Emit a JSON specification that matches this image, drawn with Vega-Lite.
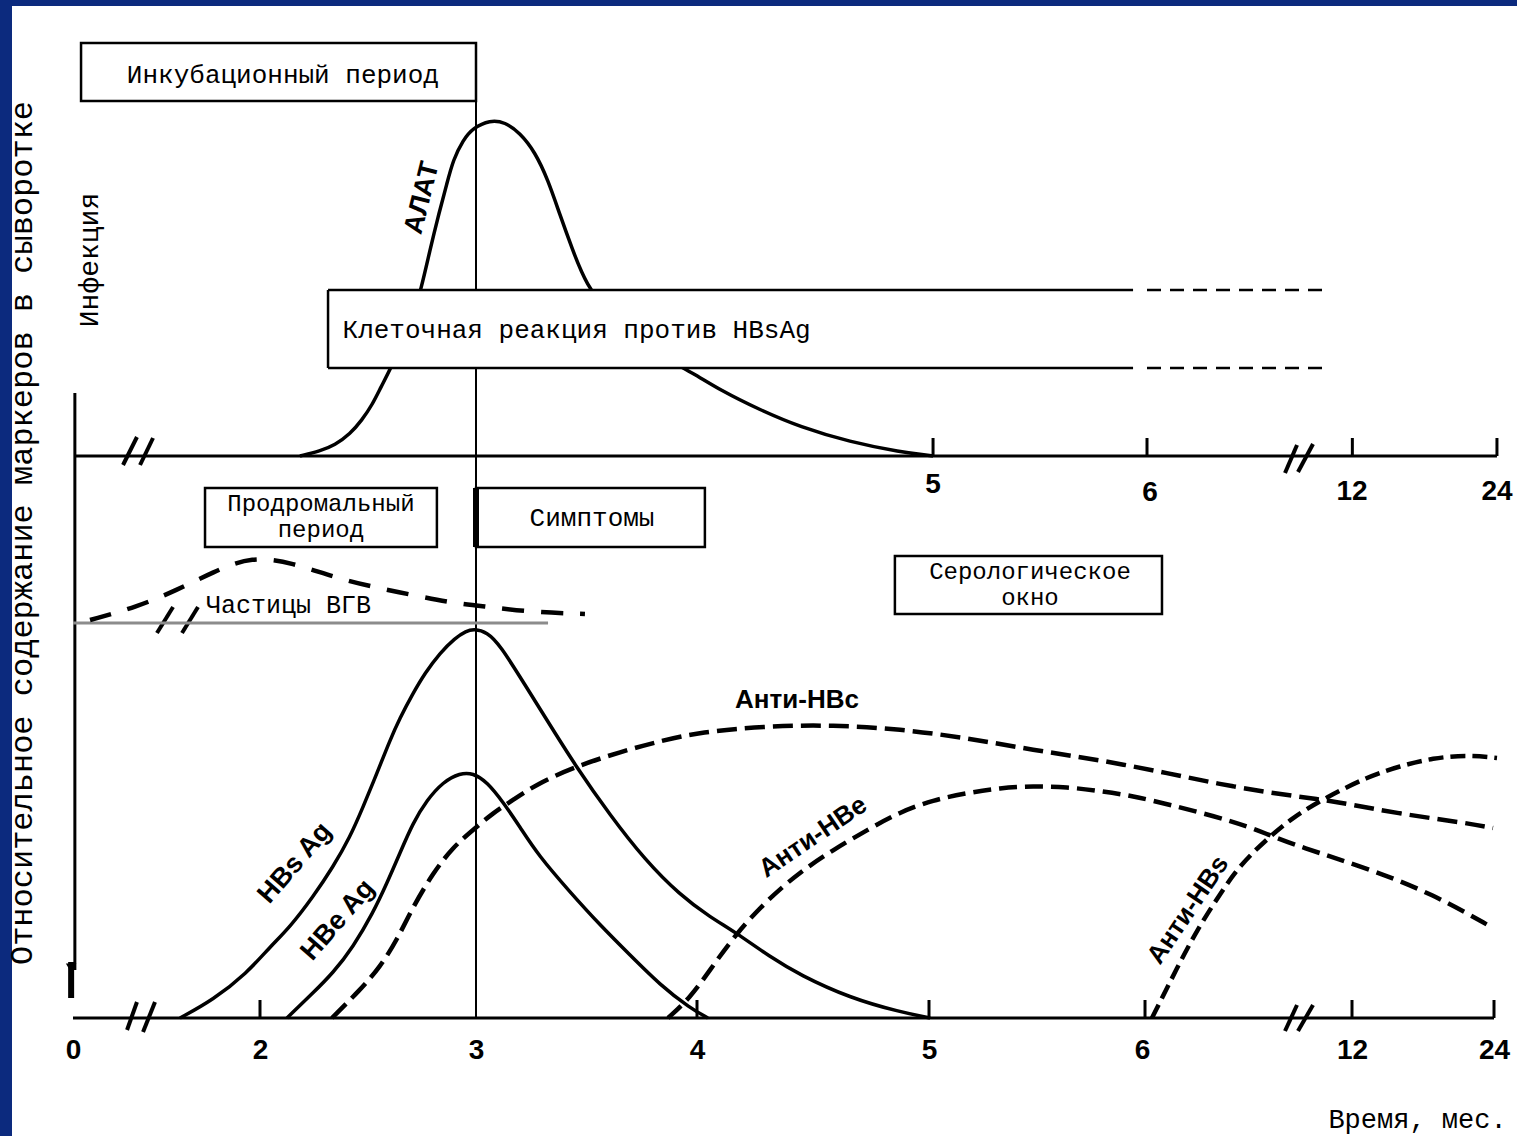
{
  "$schema": "https://vega.github.io/schema/vega-lite/v6.json",
  "width": 1505,
  "height": 1130,
  "autosize": "none",
  "padding": {"left": 12, "top": 6, "right": 0, "bottom": 0},
  "background": "#0c2a7e",
  "config": {"view": {"fill": "white", "stroke": null}, "font": "Liberation Sans"},
  "datasets": {
    "curves": [
      {"series": "АЛАТ", "m": 2.185, "v": 140.5}, {"series": "АЛАТ", "m": 2.278, "v": 141.75}, {"series": "АЛАТ", "m": 2.347, "v": 143.25}, {"series": "АЛАТ", "m": 2.417, "v": 146}, {"series": "АЛАТ", "m": 2.472, "v": 149.5}, {"series": "АЛАТ", "m": 2.519, "v": 153.25}, {"series": "АЛАТ", "m": 2.56, "v": 157.75}, {"series": "АЛАТ", "m": 2.606, "v": 162.5}, {"series": "АЛАТ", "m": 2.657, "v": 168.75}, {"series": "АЛАТ", "m": 2.708, "v": 175.5}, {"series": "АЛАТ", "m": 2.745, "v": 182}, {"series": "АЛАТ", "m": 2.787, "v": 192}, {"series": "АЛАТ", "m": 2.824, "v": 200.25}, {"series": "АЛАТ", "m": 2.866, "v": 208.75}, {"series": "АЛАТ", "m": 2.894, "v": 214.5}, {"series": "АЛАТ", "m": 2.94, "v": 219.5}, {"series": "АЛАТ", "m": 2.986, "v": 222.5}, {"series": "АЛАТ", "m": 3.063, "v": 224.5}, {"series": "АЛАТ", "m": 3.131, "v": 224}, {"series": "АЛАТ", "m": 3.199, "v": 221.25}, {"series": "АЛАТ", "m": 3.267, "v": 216.5}, {"series": "АЛАТ", "m": 3.326, "v": 209.5}, {"series": "АЛАТ", "m": 3.38, "v": 200.75}, {"series": "АЛАТ", "m": 3.434, "v": 192.5}, {"series": "АЛАТ", "m": 3.498, "v": 183.25}, {"series": "АЛАТ", "m": 3.606, "v": 175.75}, {"series": "АЛАТ", "m": 3.742, "v": 169}, {"series": "АЛАТ", "m": 3.869, "v": 164.5}, {"series": "АЛАТ", "m": 3.982, "v": 161.25}, {"series": "АЛАТ", "m": 4.099, "v": 157}, {"series": "АЛАТ", "m": 4.272, "v": 152}, {"series": "АЛАТ", "m": 4.444, "v": 147.75}, {"series": "АЛАТ", "m": 4.659, "v": 144}, {"series": "АЛАТ", "m": 4.875, "v": 141.5}, {"series": "АЛАТ", "m": 5.019, "v": 140.5},
      {"series": "HBsAg", "m": 1.144, "v": 0}, {"series": "HBsAg", "m": 1.497, "v": 4.5}, {"series": "HBsAg", "m": 1.861, "v": 11.25}, {"series": "HBsAg", "m": 2.046, "v": 17.75}, {"series": "HBsAg", "m": 2.139, "v": 22.75}, {"series": "HBsAg", "m": 2.245, "v": 30.25}, {"series": "HBsAg", "m": 2.338, "v": 37.75}, {"series": "HBsAg", "m": 2.417, "v": 45.25}, {"series": "HBsAg", "m": 2.477, "v": 52.75}, {"series": "HBsAg", "m": 2.542, "v": 61.25}, {"series": "HBsAg", "m": 2.602, "v": 69.5}, {"series": "HBsAg", "m": 2.648, "v": 75}, {"series": "HBsAg", "m": 2.704, "v": 80.75}, {"series": "HBsAg", "m": 2.764, "v": 86.25}, {"series": "HBsAg", "m": 2.833, "v": 91.25}, {"series": "HBsAg", "m": 2.903, "v": 95}, {"series": "HBsAg", "m": 2.954, "v": 96.75}, {"series": "HBsAg", "m": 2.991, "v": 97.25}, {"series": "HBsAg", "m": 3.05, "v": 96.5}, {"series": "HBsAg", "m": 3.109, "v": 93.25}, {"series": "HBsAg", "m": 3.222, "v": 83.25}, {"series": "HBsAg", "m": 3.335, "v": 73.25}, {"series": "HBsAg", "m": 3.448, "v": 63.25}, {"series": "HBsAg", "m": 3.606, "v": 50.75}, {"series": "HBsAg", "m": 3.765, "v": 39.5}, {"series": "HBsAg", "m": 3.923, "v": 30.75}, {"series": "HBsAg", "m": 4.056, "v": 25.25}, {"series": "HBsAg", "m": 4.164, "v": 21.5}, {"series": "HBsAg", "m": 4.315, "v": 15.25}, {"series": "HBsAg", "m": 4.444, "v": 10.75}, {"series": "HBsAg", "m": 4.659, "v": 5}, {"series": "HBsAg", "m": 4.875, "v": 1.5}, {"series": "HBsAg", "m": 5.005, "v": 0},
      {"series": "HBeAg", "m": 2.125, "v": 0}, {"series": "HBeAg", "m": 2.245, "v": 6.25}, {"series": "HBeAg", "m": 2.338, "v": 11.25}, {"series": "HBeAg", "m": 2.431, "v": 17.75}, {"series": "HBeAg", "m": 2.523, "v": 26.25}, {"series": "HBeAg", "m": 2.588, "v": 33.75}, {"series": "HBeAg", "m": 2.648, "v": 41.25}, {"series": "HBeAg", "m": 2.708, "v": 48.75}, {"series": "HBeAg", "m": 2.773, "v": 54.5}, {"series": "HBeAg", "m": 2.847, "v": 59}, {"series": "HBeAg", "m": 2.926, "v": 61.25}, {"series": "HBeAg", "m": 2.986, "v": 61.25}, {"series": "HBeAg", "m": 3.05, "v": 59}, {"series": "HBeAg", "m": 3.122, "v": 54}, {"series": "HBeAg", "m": 3.199, "v": 47.75}, {"series": "HBeAg", "m": 3.281, "v": 40.75}, {"series": "HBeAg", "m": 3.425, "v": 31.5}, {"series": "HBeAg", "m": 3.561, "v": 23.25}, {"series": "HBeAg", "m": 3.697, "v": 15.75}, {"series": "HBeAg", "m": 3.833, "v": 8.25}, {"series": "HBeAg", "m": 3.968, "v": 2.5}, {"series": "HBeAg", "m": 4.047, "v": 0},
      {"series": "Анти-HBc", "m": 2.333, "v": 0}, {"series": "Анти-HBc", "m": 2.463, "v": 7}, {"series": "Анти-HBc", "m": 2.556, "v": 12.75}, {"series": "Анти-HBc", "m": 2.634, "v": 19.5}, {"series": "Анти-HBc", "m": 2.708, "v": 27.75}, {"series": "Анти-HBc", "m": 2.801, "v": 36.25}, {"series": "Анти-HBc", "m": 2.894, "v": 42.75}, {"series": "Анти-HBc", "m": 2.986, "v": 47}, {"series": "Анти-HBc", "m": 3.077, "v": 51.25}, {"series": "Анти-HBc", "m": 3.167, "v": 54.5}, {"series": "Анти-HBc", "m": 3.29, "v": 59}, {"series": "Анти-HBc", "m": 3.471, "v": 63.25}, {"series": "Анти-HBc", "m": 3.652, "v": 66.5}, {"series": "Анти-HBc", "m": 3.833, "v": 69.25}, {"series": "Анти-HBc", "m": 4.013, "v": 71.5}, {"series": "Анти-HBc", "m": 4.302, "v": 73}, {"series": "Анти-HBc", "m": 4.586, "v": 73.25}, {"series": "Анти-HBc", "m": 4.875, "v": 72.25}, {"series": "Анти-HBc", "m": 5.178, "v": 70}, {"series": "Анти-HBc", "m": 5.488, "v": 67}, {"series": "Анти-HBc", "m": 5.803, "v": 64.5}, {"series": "Анти-HBc", "m": 6.714, "v": 61.25}, {"series": "Анти-HBc", "m": 8.6, "v": 57.75}, {"series": "Анти-HBc", "m": 10.514, "v": 55.25}, {"series": "Анти-HBc", "m": 11.457, "v": 54.25}, {"series": "Анти-HBc", "m": 16.056, "v": 51}, {"series": "Анти-HBc", "m": 21.718, "v": 48.75}, {"series": "Анти-HBc", "m": 23.916, "v": 47.5},
      {"series": "Анти-HBe", "m": 3.869, "v": 0}, {"series": "Анти-HBe", "m": 3.968, "v": 5}, {"series": "Анти-HBe", "m": 4.056, "v": 12}, {"series": "Анти-HBe", "m": 4.164, "v": 20.75}, {"series": "Анти-HBe", "m": 4.302, "v": 29.5}, {"series": "Анти-HBe", "m": 4.444, "v": 36.5}, {"series": "Анти-HBe", "m": 4.586, "v": 42}, {"series": "Анти-HBe", "m": 4.733, "v": 47}, {"series": "Анти-HBe", "m": 4.875, "v": 51.5}, {"series": "Анти-HBe", "m": 5.019, "v": 54.5}, {"series": "Анти-HBe", "m": 5.178, "v": 56.25}, {"series": "Анти-HBe", "m": 5.333, "v": 57.5}, {"series": "Анти-HBe", "m": 5.488, "v": 58}, {"series": "Анти-HBe", "m": 5.648, "v": 57.75}, {"series": "Анти-HBe", "m": 5.803, "v": 56.75}, {"series": "Анти-HBe", "m": 5.958, "v": 55.5}, {"series": "Анти-HBe", "m": 6.714, "v": 53.5}, {"series": "Анти-HBe", "m": 8.6, "v": 49.25}, {"series": "Анти-HBe", "m": 9.571, "v": 46}, {"series": "Анти-HBe", "m": 10.514, "v": 42.75}, {"series": "Анти-HBe", "m": 13.268, "v": 37.5}, {"series": "Анти-HBe", "m": 18.845, "v": 31}, {"series": "Анти-HBe", "m": 23.916, "v": 22.5},
      {"series": "Анти-HBs", "m": 6.286, "v": 0}, {"series": "Анти-HBs", "m": 6.429, "v": 2.5}, {"series": "Анти-HBs", "m": 7, "v": 12.5}, {"series": "Анти-HBs", "m": 7.571, "v": 22}, {"series": "Анти-HBs", "m": 8.229, "v": 31}, {"series": "Анти-HBs", "m": 8.8, "v": 38.25}, {"series": "Анти-HBs", "m": 9.571, "v": 44.75}, {"series": "Анти-HBs", "m": 10.314, "v": 50.25}, {"series": "Анти-HBs", "m": 11.286, "v": 55.25}, {"series": "Анти-HBs", "m": 13.268, "v": 60.25}, {"series": "Анти-HBs", "m": 16.056, "v": 63}, {"series": "Анти-HBs", "m": 18.845, "v": 65}, {"series": "Анти-HBs", "m": 21.718, "v": 65.75}, {"series": "Анти-HBs", "m": 24.254, "v": 65},
      {"series": "Частицы ВГВ", "m": 0.182, "v": 99.5}, {"series": "Частицы ВГВ", "m": 0.684, "v": 102.75}, {"series": "Частицы ВГВ", "m": 1.112, "v": 107}, {"series": "Частицы ВГВ", "m": 1.497, "v": 111.5}, {"series": "Частицы ВГВ", "m": 1.914, "v": 115.5}, {"series": "Частицы ВГВ", "m": 2.153, "v": 113.75}, {"series": "Частицы ВГВ", "m": 2.338, "v": 110.25}, {"series": "Частицы ВГВ", "m": 2.523, "v": 107.75}, {"series": "Частицы ВГВ", "m": 2.708, "v": 105.75}, {"series": "Частицы ВГВ", "m": 2.894, "v": 103.75}, {"series": "Частицы ВГВ", "m": 3.063, "v": 102.75}, {"series": "Частицы ВГВ", "m": 3.244, "v": 101.5}, {"series": "Частицы ВГВ", "m": 3.493, "v": 101}
    ]
  },
  "encoding": {
    "x": {
      "field": "m", "type": "quantitative",
      "scale": {"type": "linear", "domain": [0, 2, 3, 4, 5, 6, 12, 24], "range": [61, 248, 464, 685, 917, 1130, 1340, 1482], "nice": false, "zero": false},
      "axis": {"title": null, "orient": "bottom", "offset": -118, "values": [0, 2, 3, 4, 5, 6, 12, 24], "format": "d", "domain": false, "ticks": false, "grid": false, "labelFont": "Liberation Sans", "labelFontWeight": "bold", "labelFontSize": 28, "labelColor": "black", "labelPadding": 18, "labelFlush": false, "labelOverlap": false}
    },
    "y": {
      "field": "v", "type": "quantitative",
      "scale": {"type": "linear", "domain": [0, 100], "range": [1012, 612], "nice": false, "zero": false},
      "axis": null
    }
  },
  "layer": [
    {
      "data": {"values": [
        {"part": "upper baseline", "m": 0.02, "m2": 24.25, "v": 140.5, "v2": 140.5},
        {"part": "lower baseline", "m": 0, "m2": 24, "v": 0, "v2": 0},
        {"part": "left axis", "m": 0.02, "m2": 0.02, "v": 156.25, "v2": 12},
        {"part": "tick 5 upper", "m": 5.019, "m2": 5.019, "v": 140.5, "v2": 145},
        {"part": "tick 6 upper", "m": 6.143, "m2": 6.143, "v": 140.5, "v2": 145},
        {"part": "tick 12 upper", "m": 12.03, "m2": 12.03, "v": 140.5, "v2": 145},
        {"part": "tick 24 upper", "m": 24.25, "m2": 24.25, "v": 140.5, "v2": 145},
        {"part": "tick 2", "m": 2, "m2": 2, "v": 0, "v2": 4.5},
        {"part": "tick 4", "m": 4, "m2": 4, "v": 0, "v2": 4.5},
        {"part": "tick 5", "m": 5, "m2": 5, "v": 0, "v2": 4.5},
        {"part": "tick 6", "m": 6.086, "m2": 6.086, "v": 0, "v2": 4.5},
        {"part": "tick 12", "m": 12, "m2": 12, "v": 0, "v2": 4.5},
        {"part": "tick 24", "m": 24, "m2": 24, "v": 0, "v2": 4.5}
      ]},
      "mark": {"type": "rule", "color": "black", "strokeWidth": 3},
      "encoding": {"x2": {"field": "m2"}, "y2": {"field": "v2"}}
    },
    {
      "data": {"values": [
        {"m": 0.535, "m2": 0.684, "v": 138.25, "v2": 145.25},
        {"m": 0.717, "m2": 0.856, "v": 138.25, "v2": 145},
        {"m": 10.086, "m2": 10.429, "v": 136.25, "v2": 143.25},
        {"m": 10.457, "m2": 10.886, "v": 136.5, "v2": 143.5},
        {"m": 0.578, "m2": 0.684, "v": -3, "v2": 4},
        {"m": 0.749, "m2": 0.877, "v": -3.5, "v2": 4},
        {"m": 10.086, "m2": 10.429, "v": -3.25, "v2": 3.25},
        {"m": 10.457, "m2": 10.886, "v": -3.25, "v2": 3.25},
        {"m": 0.898, "m2": 1.07, "v": 96.25, "v2": 102.75},
        {"m": 1.166, "m2": 1.337, "v": 96.25, "v2": 102.75}
      ]},
      "mark": {"type": "rule", "color": "black", "strokeWidth": 4},
      "encoding": {"x2": {"field": "m2"}, "y2": {"field": "v2"}}
    },
    {
      "data": {"values": [{"m": 3, "m2": 3, "v": 0, "v2": 243.75}]},
      "mark": {"type": "rule", "color": "black", "strokeWidth": 2},
      "encoding": {"x2": {"field": "m2"}, "y2": {"field": "v2"}}
    },
    {
      "data": {"values": [{"m": 0, "m2": 3.326, "v": 98.75, "v2": 98.75}]},
      "mark": {"type": "rule", "color": "#8c8c8c", "strokeWidth": 3},
      "encoding": {"x2": {"field": "m2"}, "y2": {"field": "v2"}}
    },
    {
      "data": {"values": [{"m": -0.02, "m2": -0.02, "v": 14, "v2": 5}]},
      "mark": {"type": "rule", "color": "black", "strokeWidth": 6},
      "encoding": {"x2": {"field": "m2"}, "y2": {"field": "v2"}}
    },
    {
      "data": {"values": [{"m": -0.02, "v": 12.5}]},
      "mark": {"type": "point", "shape": "triangle-down", "filled": true, "color": "black", "size": 110, "opacity": 1}
    },
    {
      "data": {"name": "curves"},
      "transform": [{"filter": "datum.series === 'АЛАТ' || datum.series === 'HBsAg' || datum.series === 'HBeAg'"}],
      "mark": {"type": "line", "color": "black", "strokeWidth": 3.5, "interpolate": "basis"},
      "encoding": {"detail": {"field": "series"}}
    },
    {
      "data": {"name": "curves"},
      "transform": [{"filter": "datum.series !== 'АЛАТ' && datum.series !== 'HBsAg' && datum.series !== 'HBeAg'"}],
      "mark": {"type": "line", "color": "black", "strokeWidth": 4.5, "interpolate": "basis", "strokeCap": "butt"},
      "encoding": {
        "strokeDash": {"field": "series", "type": "nominal", "legend": null,
          "scale": {"domain": ["Анти-HBc", "Анти-HBe", "Анти-HBs", "Частицы ВГВ"], "range": [[20, 8], [18, 8], [15, 7], [22, 17]]}}
      }
    },
    {
      "data": {"values": [
        {"box": "Инкубационный период", "m": 0.086, "m2": 3, "v": 229.25, "v2": 243.75},
        {"box": "Продромальный период", "m": 1.412, "m2": 2.819, "v": 117.75, "v2": 132.5},
        {"box": "Симптомы", "m": 3, "m2": 4.034, "v": 117.75, "v2": 132.5},
        {"box": "Серологическое окно", "m": 4.853, "m2": 6.571, "v": 101, "v2": 115.5}
      ]},
      "mark": {"type": "rect", "fill": "white", "stroke": "black", "strokeWidth": 2.5},
      "encoding": {"x2": {"field": "m2"}, "y2": {"field": "v2"}}
    },
    {
      "data": {"values": [{"box": "Клеточная реакция", "m": 2.315, "m2": 5.958, "v": 162.5, "v2": 182}]},
      "mark": {"type": "rect", "fill": "white", "strokeWidth": 0},
      "encoding": {"x2": {"field": "m2"}, "y2": {"field": "v2"}}
    },
    {
      "data": {"values": [
        {"m": 2.315, "m2": 2.315, "v": 162.5, "v2": 182},
        {"m": 2.315, "m2": 5.958, "v": 182, "v2": 182},
        {"m": 2.315, "m2": 5.958, "v": 162.5, "v2": 162.5}
      ]},
      "mark": {"type": "rule", "color": "black", "strokeWidth": 2.5},
      "encoding": {"x2": {"field": "m2"}, "y2": {"field": "v2"}}
    },
    {
      "data": {"values": [
        {"m": 6.143, "m2": 11.371, "v": 182, "v2": 182},
        {"m": 6.143, "m2": 11.371, "v": 162.5, "v2": 162.5}
      ]},
      "mark": {"type": "rule", "color": "black", "strokeWidth": 2.5, "strokeDash": [14, 9]},
      "encoding": {"x2": {"field": "m2"}, "y2": {"field": "v2"}}
    },
    {
      "data": {"values": [{"m": 3, "m2": 3, "v": 117.75, "v2": 132.5}]},
      "mark": {"type": "rule", "color": "black", "strokeWidth": 6},
      "encoding": {"x2": {"field": "m2"}, "y2": {"field": "v2"}}
    },
    {
      "data": {"values": [
        {"text": "Инкубационный период", "m": 2.106, "v": 235.75},
        {"text": "Клеточная реакция против HBsAg", "m": 3.455, "v": 172},
        {"text": "Симптомы", "m": 3.525, "v": 125}
      ]},
      "mark": {"type": "text", "font": "Liberation Mono", "fontSize": 26, "color": "black", "align": "center", "baseline": "middle"},
      "encoding": {"text": {"field": "text"}}
    },
    {
      "data": {"values": [
        {"text": "Продромальный", "m": 2.282, "v": 128.6},
        {"text": "период", "m": 2.282, "v": 121.9},
        {"text": "Серологическое", "m": 5.474, "v": 111.6},
        {"text": "окно", "m": 5.474, "v": 104.9}
      ]},
      "mark": {"type": "text", "font": "Liberation Mono", "fontSize": 24, "color": "black", "align": "center", "baseline": "middle"},
      "encoding": {"text": {"field": "text"}}
    },
    {
      "data": {"values": [{"text": "Частицы ВГВ", "m": 2.132, "v": 103.25}]},
      "mark": {"type": "text", "font": "Liberation Mono", "fontSize": 25, "color": "black", "align": "center", "baseline": "middle"},
      "encoding": {"text": {"field": "text"}}
    },
    {
      "data": {"values": [{"text": "Время, мес.", "m": 17.535, "v": -25.5}]},
      "mark": {"type": "text", "font": "Liberation Mono", "fontSize": 27, "color": "black", "align": "center", "baseline": "middle"},
      "encoding": {"text": {"field": "text"}}
    },
    {
      "data": {"values": [{"text": "Относительное содержание маркеров в сыворотке", "m": -0.545, "v": 121.25}]},
      "mark": {"type": "text", "font": "Liberation Mono", "fontSize": 32, "color": "black", "align": "center", "baseline": "middle", "angle": 270},
      "encoding": {"text": {"field": "text"}}
    },
    {
      "data": {"values": [{"text": "Инфекция", "m": 0.182, "v": 189.5}]},
      "mark": {"type": "text", "font": "Liberation Mono", "fontSize": 28, "color": "black", "align": "center", "baseline": "middle", "angle": 270},
      "encoding": {"text": {"field": "text"}}
    },
    {
      "data": {"values": [
        {"text": "5", "m": 5.019, "v": 133.25},
        {"text": "6", "m": 6.229, "v": 131.25},
        {"text": "12", "m": 12, "v": 131.5},
        {"text": "24", "m": 24.25, "v": 131.5}
      ]},
      "mark": {"type": "text", "font": "Liberation Sans", "fontWeight": "bold", "fontSize": 28, "color": "black", "align": "center", "baseline": "middle"},
      "encoding": {"text": {"field": "text"}}
    },
    {
      "data": {"values": [{"text": "АЛАТ", "m": 2.75, "v": 205}]},
      "mark": {"type": "text", "font": "Liberation Sans", "fontWeight": "bold", "fontSize": 27, "color": "black", "align": "center", "baseline": "middle", "angle": 284},
      "encoding": {"text": {"field": "text"}}
    },
    {
      "data": {"values": [{"text": "HBs Ag", "m": 2.162, "v": 38.75}, {"text": "HBe Ag", "m": 2.361, "v": 24.5}]},
      "mark": {"type": "text", "font": "Liberation Sans", "fontWeight": "bold", "fontSize": 27, "color": "black", "align": "center", "baseline": "middle", "angle": 311},
      "encoding": {"text": {"field": "text"}}
    },
    {
      "data": {"values": [{"text": "Анти-HBc", "m": 4.431, "v": 79.5}]},
      "mark": {"type": "text", "font": "Liberation Sans", "fontWeight": "bold", "fontSize": 26, "color": "black", "align": "center", "baseline": "middle"},
      "encoding": {"text": {"field": "text"}}
    },
    {
      "data": {"values": [{"text": "Анти-HBe", "m": 4.5, "v": 45.25}]},
      "mark": {"type": "text", "font": "Liberation Sans", "fontWeight": "bold", "fontSize": 26, "color": "black", "align": "center", "baseline": "middle", "angle": 326},
      "encoding": {"text": {"field": "text"}}
    },
    {
      "data": {"values": [{"text": "Анти-HBs", "m": 7.314, "v": 27}]},
      "mark": {"type": "text", "font": "Liberation Sans", "fontWeight": "bold", "fontSize": 26, "color": "black", "align": "center", "baseline": "middle", "angle": 304},
      "encoding": {"text": {"field": "text"}}
    }
  ]
}
